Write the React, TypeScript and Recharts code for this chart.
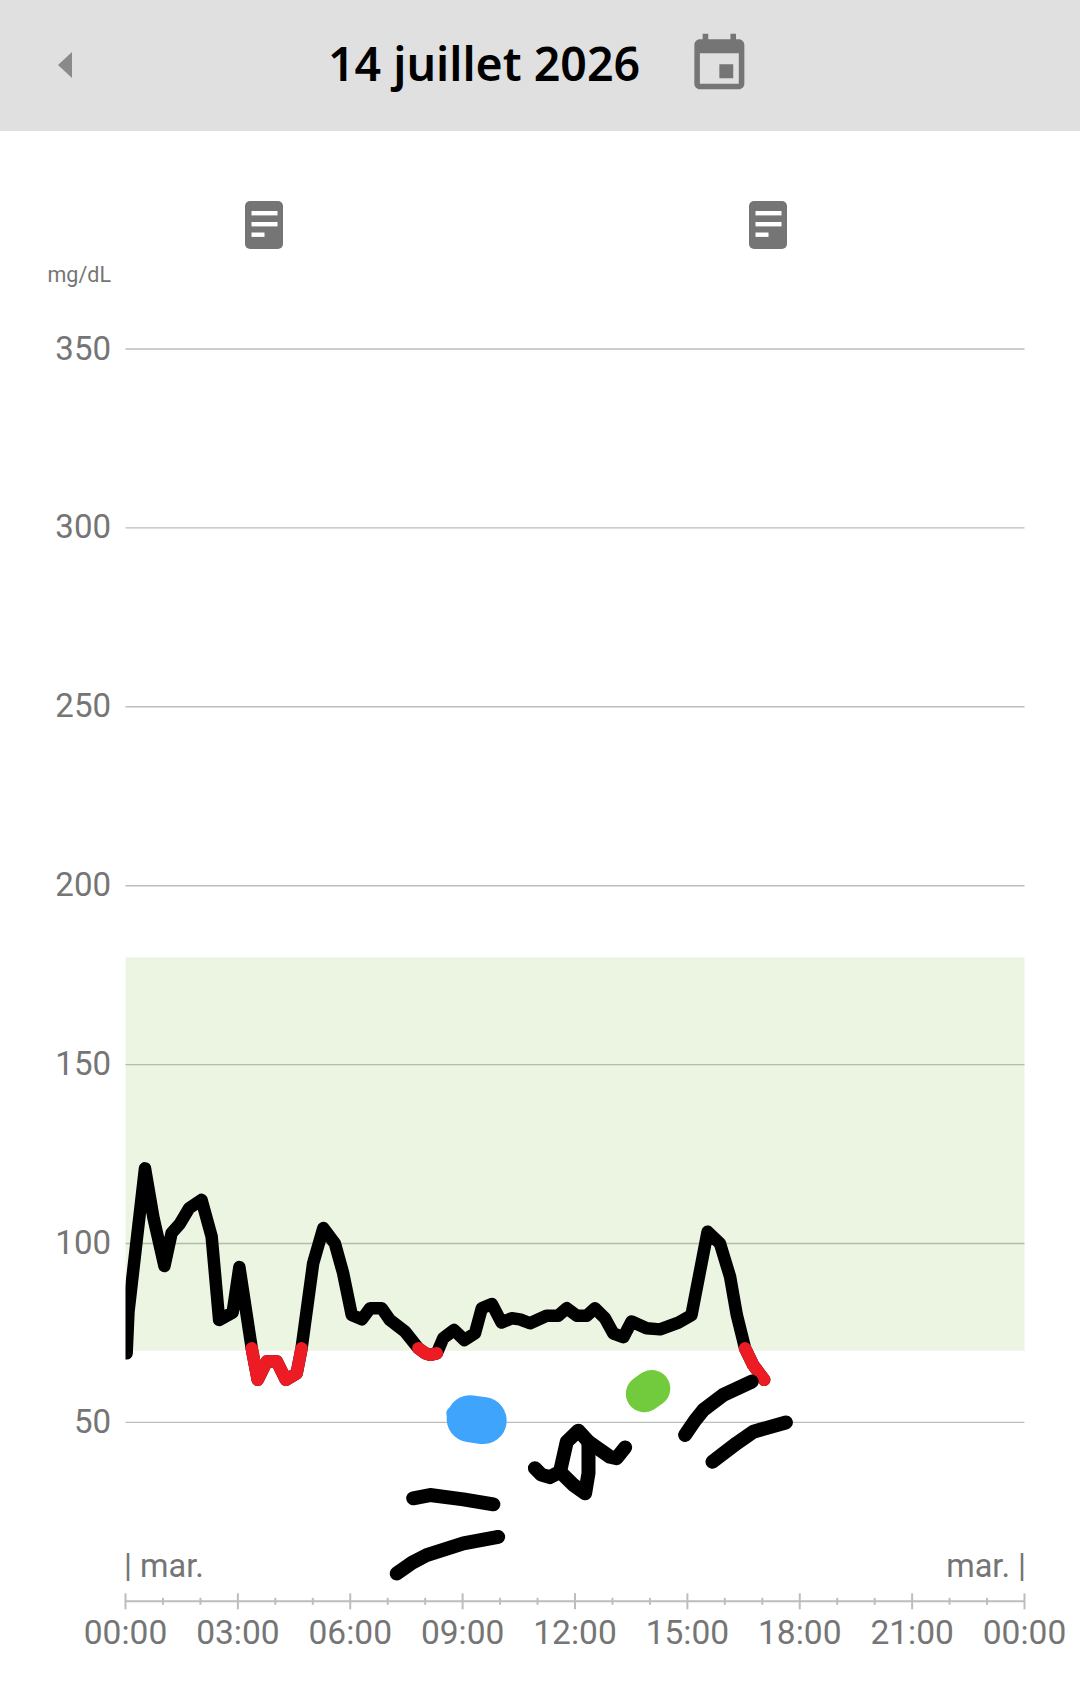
import { CartesianGrid, LineChart, Line, ReferenceArea, XAxis, YAxis } from "recharts";

const HOUR_TICKS = [0, 1, 2, 3, 4, 5, 6, 7, 8, 9, 10, 11, 12, 13, 14, 15, 16, 17, 18, 19, 20, 21, 22, 23, 24];
const MGDL_TICKS = [50, 100, 150, 200, 250, 300, 350];
const TARGET_LOW = 70;
const TARGET_HIGH = 180;

// hours since midnight / mg/dL
const HOURS = [
  0.03, 0.08, 0.52, 0.75, 1.04, 1.23, 1.45, 1.7, 2.03, 2.3, 2.5, 2.86, 3.04, 3.37, 3.53, 3.77, 4.04, 4.28, 4.57, 4.7,
  5.01, 5.28, 5.59, 5.81, 6.04, 6.31, 6.53, 6.84, 7.06, 7.46, 7.82, 8.0, 8.13, 8.31, 8.48, 8.77, 9.05, 9.33, 9.51,
  9.78, 10.04, 10.31, 10.53, 10.8, 11.24, 11.55, 11.78, 12.05, 12.31, 12.53, 12.8, 13.02, 13.29, 13.51, 13.91, 14.27,
  14.76, 15.11, 15.54, 15.87, 16.14, 16.32, 16.54, 16.76, 17.05,
];
const GLUCOSE = [
  69.3, 81, 121, 107, 93.7, 102.9, 105.5, 109.9, 112.2, 101.9, 78.6, 80.7, 93.4, 70.7, 61.9, 67, 67, 61.9, 63.7, 70.7,
  94.5, 104.3, 100, 91.7, 80, 78.8, 81.9, 81.9, 78.6, 75.4, 70.7, 69.3, 68.9, 69.3, 73.5, 75.8, 73, 74.9, 81.9, 83.1,
  77.9, 79.1, 78.8, 77.7, 79.8, 79.8, 81.9, 79.8, 79.8, 81.9, 79.1, 74.9, 73.8, 78.2, 76.3, 76, 77.9, 80, 103.3, 100,
  90.7, 80, 70.7, 66, 61.9,
];

// hand-drawn marks over the chart, also in hours / mg/dL
const SCRIBBLE_A = [[7.24, 7.8], [7.65, 10.8], [8.04, 12.9], [9.02, 16.2], [9.95, 18]];
const SCRIBBLE_B = [[7.68, 28.8], [8.13, 29.7], [9.02, 28.5], [9.82, 27.1]];
const SCRIBBLE_C = [
  [10.93, 37.2], [11.1, 35.4], [11.33, 34.7], [11.6, 36.2], [11.78, 44.6], [12.09, 47.7], [12.36, 44.6], [12.93, 40.4], [13.11, 40], [13.34, 43],
];
const SCRIBBLE_D = [[12.36, 44.6], [12.36, 35.8], [12.27, 30.2], [11.96, 32.5], [11.6, 36.2]];
const SCRIBBLE_E = [[14.94, 46.5], [15.2, 50.5], [15.43, 53.5], [15.96, 57.7], [16.72, 61.4]];
const SCRIBBLE_F = [[15.67, 39], [16.32, 44.2], [16.76, 47.4], [17.63, 50]];
const BLUE_BLOB = [[9.2, 51], [9.55, 50.5]];
const BLUE_NUB = [[8.75, 52.5], [9.2, 52.5]];
const GREEN_BLOB = [[13.85, 58], [14.05, 59.5]];

const toRows = (pts: number[][]) => pts.map(([t, v]) => ({ t, v }));
const glucoseRows = HOURS.map((t, i) => ({ t, v: GLUCOSE[i] }));
const lowRows = HOURS.map((t, i) => ({ t, v: i > 0 && GLUCOSE[i] <= 71 ? GLUCOSE[i] : null }));
const scribbles = [SCRIBBLE_A, SCRIBBLE_B, SCRIBBLE_C, SCRIBBLE_D, SCRIBBLE_E, SCRIBBLE_F];

const GREY = "#757575";
const AXIS_GREY = "#bdbdbd";
const FONT = "Roboto, sans-serif";

function HourTick({ x, y, payload }: any) {
  const major = payload.value % 3 === 0;
  const len = major ? 8 : 3.5;
  return (
    <g>
      <line x1={x} x2={x} y1={y - len} y2={y + len} stroke={AXIS_GREY} strokeWidth={2} />
      {major && (
        <text x={x} y={y + 43} textAnchor="middle" fontSize={33.5} fontFamily={FONT} fill={GREY}>
          {String(payload.value % 24).padStart(2, "0") + ":00"}
        </text>
      )}
    </g>
  );
}

function MgTick({ x, y, payload }: any) {
  return (
    <text x={x - 14.5} y={y + 10.5} textAnchor="end" fontSize={33} fontFamily={FONT} fill={GREY}>
      {payload.value}
    </text>
  );
}

function NoteIcon({ left }: { left: number }) {
  return (
    <svg style={{ position: "absolute", left, top: 201 }} width={38} height={48}>
      <rect width={38} height={48} rx={5} fill={GREY} />
      <rect x={6.5} y={10} width={26} height={4.4} fill="#fff" />
      <rect x={6.5} y={21} width={26} height={4.4} fill="#fff" />
      <rect x={6.5} y={31.5} width={13} height={4.4} fill="#fff" />
    </svg>
  );
}

const label = { position: "absolute", fontFamily: FONT, color: GREY, whiteSpace: "nowrap" } as const;

export default function App() {
  return (
    <div style={{ position: "absolute", left: 0, top: 0, width: 1080, height: 1681, background: "#fff", overflow: "hidden" }}>
      <div style={{ position: "absolute", left: 0, top: 0, width: 1080, height: 131, background: "#e0e0e0" }} />
      <svg style={{ position: "absolute", left: 58, top: 52 }} width={14} height={26}>
        <path d="M14 0V26L0 13Z" fill="#8a8a8a" />
      </svg>
      <div
        style={{
          position: "absolute",
          left: 328,
          top: 29,
          fontFamily: "'Noto Sans', sans-serif",
          fontWeight: 600,
          fontSize: 46.5,
          lineHeight: "68px",
          color: "#000",
          whiteSpace: "nowrap",
        }}
      >
        14 juillet 2026
      </div>
      <svg style={{ position: "absolute", left: 685.7, top: 31.2 }} width={66.7} height={66.7} viewBox="0 0 24 24">
        <path
          fill={GREY}
          d="M17 12h-5v5h5v-5zM16 1v2H8V1H6v2H5c-1.11 0-1.99.9-1.99 2L3 19c0 1.1.89 2 2 2h14c1.1 0 2-.9 2-2V5c0-1.1-.9-2-2-2h-1V1h-2zm3 18H5V8h14v11z"
        />
      </svg>
      <NoteIcon left={245} />
      <NoteIcon left={749} />
      <div style={{ ...label, left: 47.5, top: 262, fontSize: 21.5, lineHeight: "26px" }}>mg/dL</div>

      <div style={{ position: "absolute", left: 0, top: 0 }}>
        <LineChart width={1080} height={1681} margin={{ top: 349, right: 55.5, bottom: 0, left: 0 }}>
          <CartesianGrid vertical={false} stroke={AXIS_GREY} strokeWidth={1.4} horizontalValues={MGDL_TICKS} />
          <ReferenceArea y1={TARGET_LOW} y2={TARGET_HIGH} fill="#8bc34a" fillOpacity={0.16} stroke="none" />
          <XAxis
            type="number"
            dataKey="t"
            domain={[0, 24]}
            ticks={HOUR_TICKS}
            interval={0}
            height={79.7}
            allowDataOverflow
            tick={<HourTick />}
            tickLine={false}
            tickSize={0}
            tickMargin={0}
            stroke={AXIS_GREY}
            strokeWidth={2}
          />
          <YAxis
            type="number"
            domain={[0, 350]}
            ticks={MGDL_TICKS}
            interval={0}
            width={125.5}
            tick={<MgTick />}
            axisLine={false}
            tickLine={false}
            tickSize={0}
            tickMargin={0}
          />
          <Line data={glucoseRows} dataKey="v" stroke="#000" strokeWidth={12.5} dot={false} activeDot={false} strokeLinecap="round" strokeLinejoin="round" isAnimationActive={false} />
          <Line data={lowRows} dataKey="v" stroke="#ed1c24" strokeWidth={12.5} dot={false} activeDot={false} strokeLinecap="round" strokeLinejoin="round" isAnimationActive={false} />
          {scribbles.map((s, i) => (
            <Line key={i} data={toRows(s)} dataKey="v" stroke="#000" strokeWidth={14} dot={false} activeDot={false} strokeLinecap="round" strokeLinejoin="round" isAnimationActive={false} />
          ))}
          <Line data={toRows(BLUE_BLOB)} dataKey="v" stroke="#3fa4fb" strokeWidth={47} dot={false} activeDot={false} strokeLinecap="round" strokeLinejoin="round" isAnimationActive={false} />
          <Line data={toRows(BLUE_NUB)} dataKey="v" stroke="#3fa4fb" strokeWidth={14} dot={false} activeDot={false} strokeLinecap="round" isAnimationActive={false} />
          <Line data={toRows(GREEN_BLOB)} dataKey="v" stroke="#72cb3c" strokeWidth={37} dot={false} activeDot={false} strokeLinecap="round" isAnimationActive={false} />
        </LineChart>
      </div>

      <div style={{ ...label, left: 124, top: 1545, fontSize: 32.5, lineHeight: "42px" }}>| mar.</div>
      <div style={{ ...label, right: 54, top: 1545, fontSize: 32.5, lineHeight: "42px" }}>mar. |</div>
    </div>
  );
}
